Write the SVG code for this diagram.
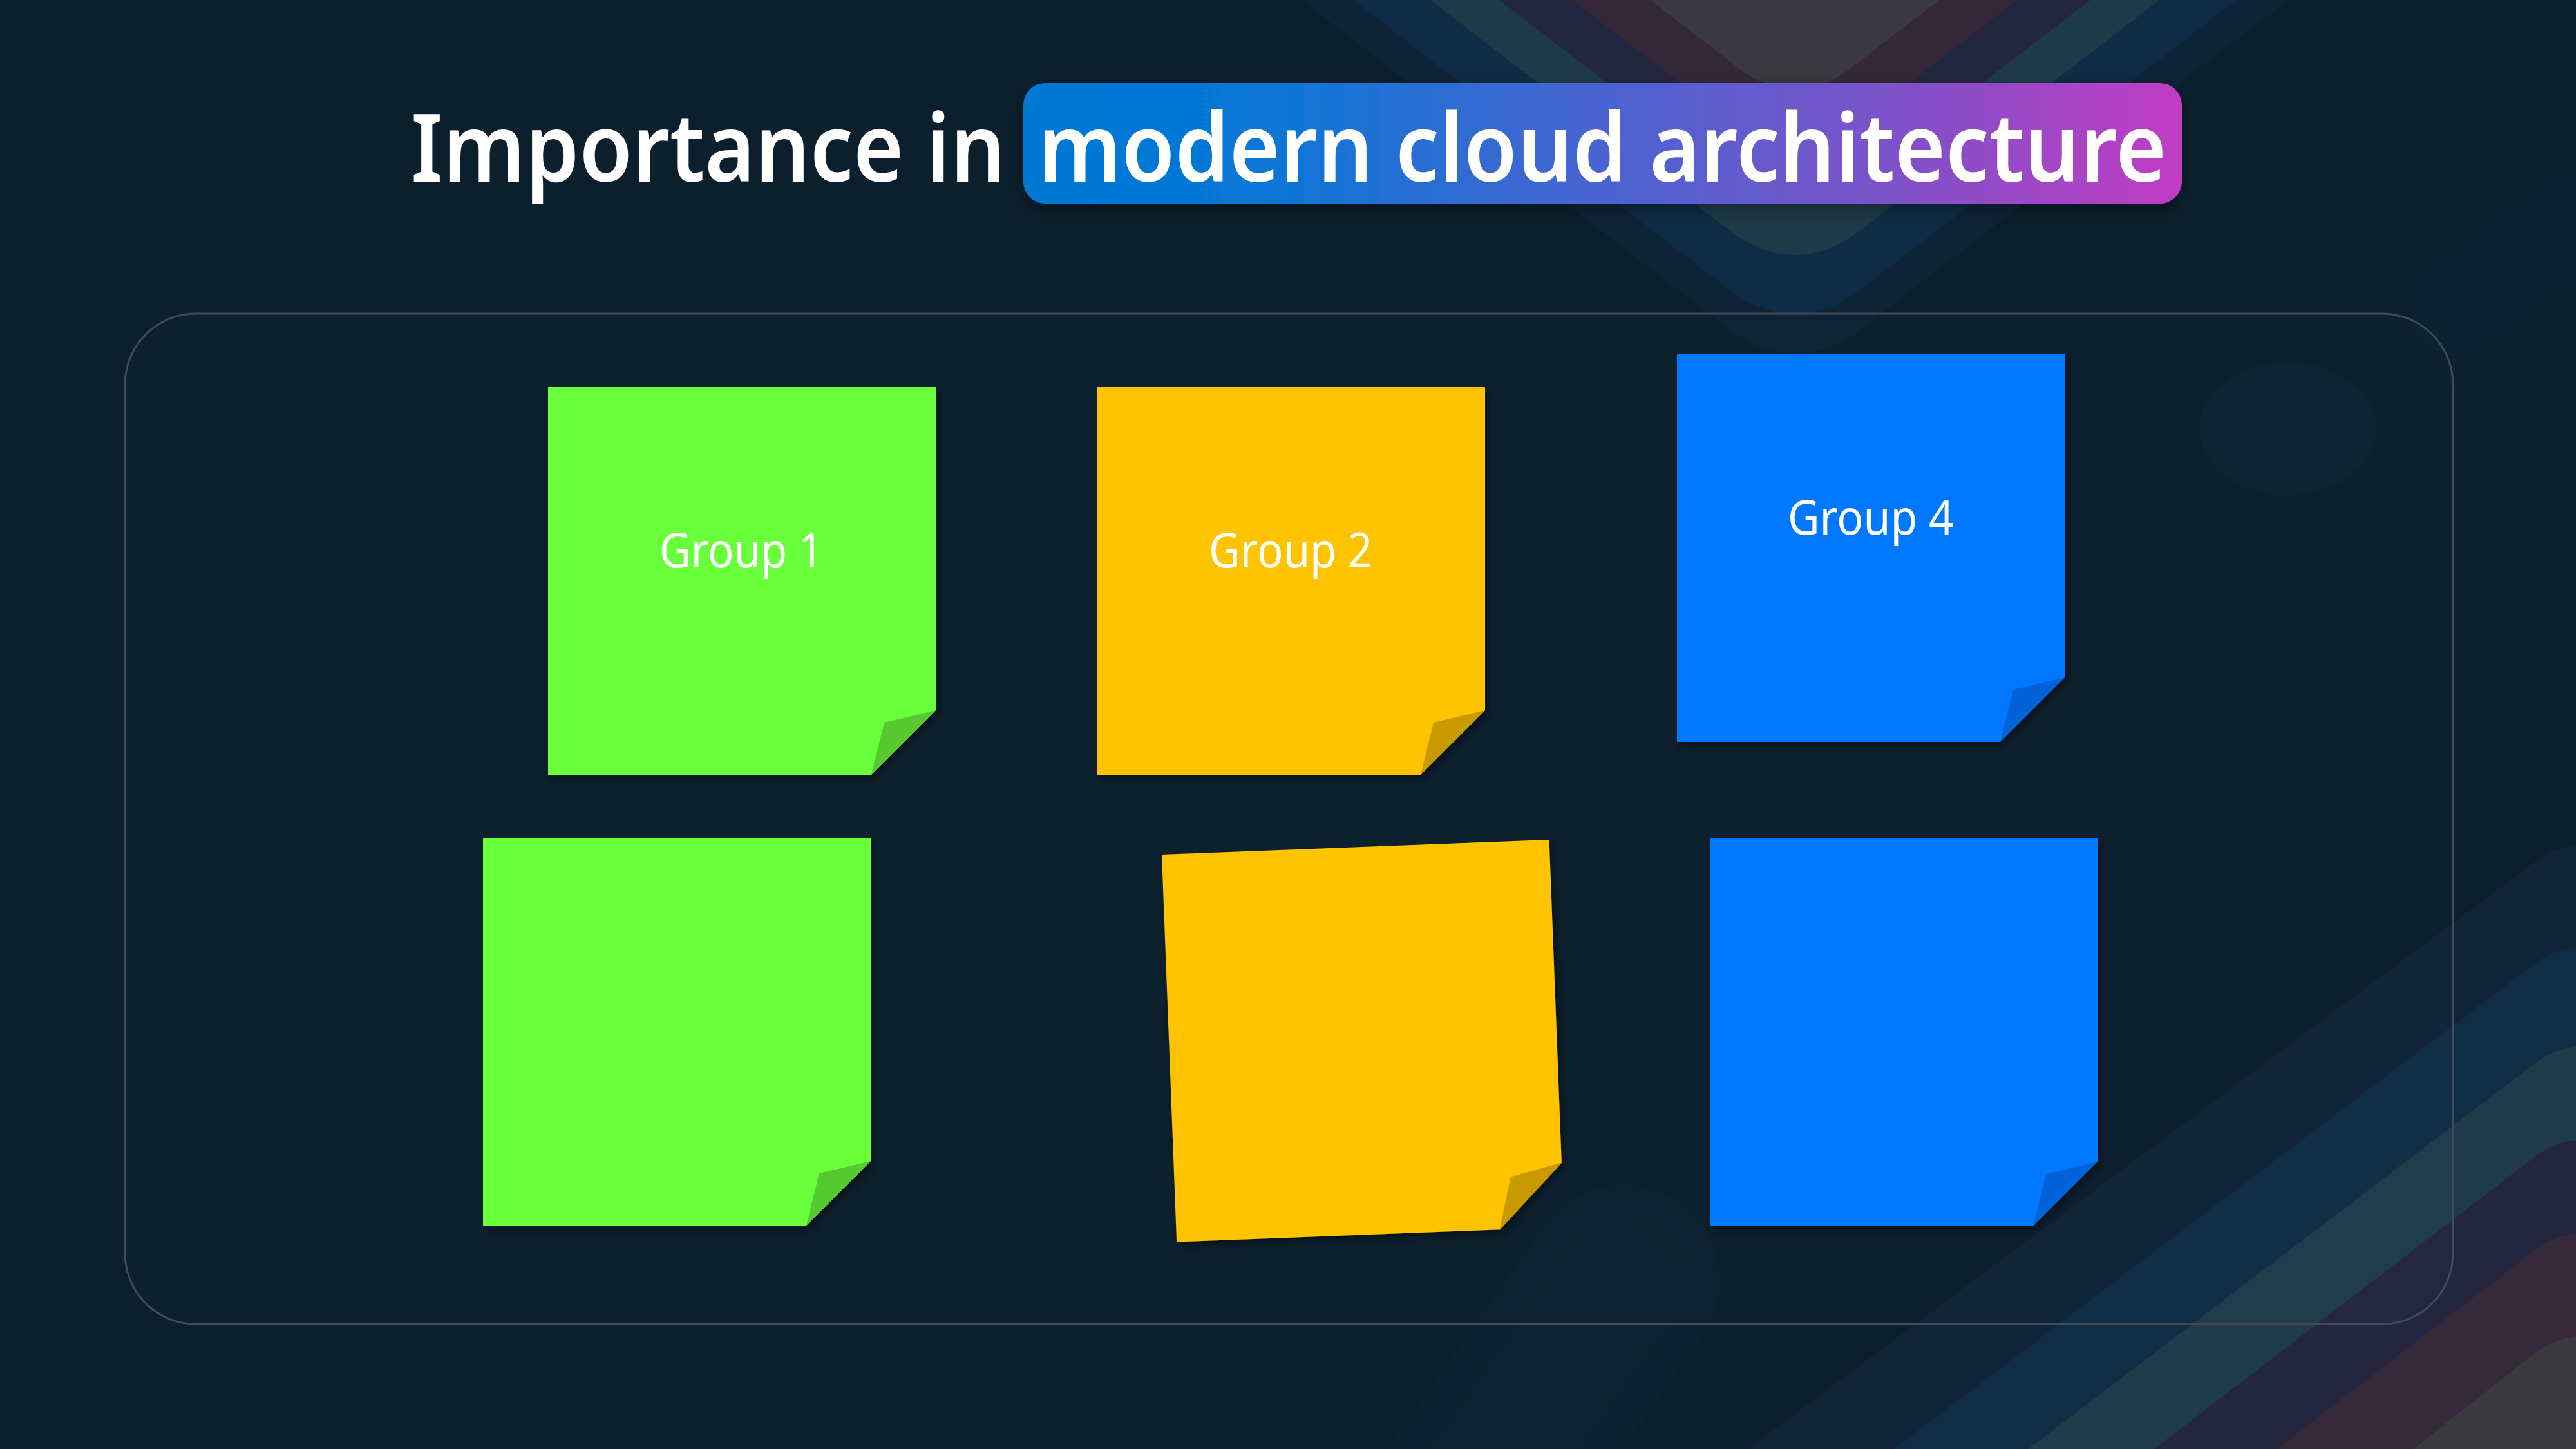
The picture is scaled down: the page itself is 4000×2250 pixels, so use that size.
<svg xmlns="http://www.w3.org/2000/svg" width="4000" height="2250" viewBox="0 0 4000 2250">
  <defs>
    <style>
      .title { font-family: "Noto Sans", "Open Sans", "Liberation Sans", sans-serif; font-weight: 600; font-size: 146px; fill: #ffffff; }
      .label { font-family: "Noto Sans", "Open Sans", "Liberation Sans", sans-serif; font-weight: 400; font-size: 74px; fill: #ffffff; text-anchor: middle; }
      .green { fill: #6bff3b; }
      .green-flap { fill: #55c92f; }
      .yellow { fill: #ffc300; }
      .yellow-flap { fill: #c99a00; }
      .blue { fill: #0077ff; }
      .blue-flap { fill: #0062d6; }
      .stripe { fill: none; stroke-width: 240; stroke-linecap: round; }
      .frame { fill: #ffffff; fill-opacity: 0.008; stroke: #414c57; stroke-width: 3; }
    </style>
    <linearGradient id="pillGrad" gradientUnits="userSpaceOnUse" x1="1589" y1="0" x2="3388" y2="0">
      <stop offset="0" stop-color="#0078d4"/>
      <stop offset="0.2" stop-color="#0877d6"/>
      <stop offset="0.5" stop-color="#4a64d1"/>
      <stop offset="0.75" stop-color="#7d52c9"/>
      <stop offset="1" stop-color="#c13cc4"/>
    </linearGradient>
    <filter id="noteShadow" x="-10%" y="-10%" width="125%" height="125%">
      <feDropShadow dx="4" dy="6" stdDeviation="6" flood-color="#000000" flood-opacity="0.45"/>
    </filter>
    <filter id="pillShadow" x="-10%" y="-30%" width="120%" height="180%">
      <feDropShadow dx="0" dy="10" stdDeviation="14" flood-color="#000000" flood-opacity="0.35"/>
    </filter>
    <path id="noteBody" d="M0,0 H602 V502 L502,602 H0 Z"/>
    <path id="noteFlap" d="M602,502 L522,521 L502,602 Z"/>
  </defs>

  <!-- background -->
  <rect x="0" y="0" width="4000" height="2250" fill="#0b1f2c"/>

  <!-- top chevrons -->
  <g id="bg-chevrons">
    <path d="M1995,-20 L2683,510 Q2787,590 2891,510 L3579,-20 Z" fill="#0f2337"/>
    <path d="M2075,-20 L2683,448 Q2787,528 2891,448 L3499,-20 Z" fill="#0e2c45"/>
    <path d="M2195,-20 L2683,356 Q2787,436 2891,356 L3379,-20 Z" fill="#1f3b4a"/>
    <path d="M2302,-20 L2683,273 Q2787,353 2891,273 L3272,-20 Z" fill="#23263f"/>
    <path d="M2416,-20 L2683,186 Q2787,266 2891,186 L3158,-20 Z" fill="#342838"/>
    <path d="M2537,-20 L2700,106 Q2787,172 2874,106 L3037,-20 Z" fill="#3a3a40"/>
  </g>

  <!-- bottom-right stripes -->
  <g id="bg-stripes">
    <line class="stripe" x1="2546" y1="2525" x2="4011" y2="1432" stroke="#112336"/>
    <line class="stripe" x1="2776" y1="2525" x2="4011" y2="1590" stroke="#0f2d45"/>
    <line class="stripe" x1="2986" y1="2525" x2="4011" y2="1745" stroke="#203c4b"/>
    <line class="stripe" x1="3184" y1="2525" x2="4011" y2="1890" stroke="#242640"/>
    <line class="stripe" x1="3375" y1="2525" x2="4011" y2="2035" stroke="#36293a"/>
    <line class="stripe" x1="3592" y1="2525" x2="4011" y2="2195" stroke="#3b3b3f"/>
  </g>

  <!-- faint decorative capsules -->
  <g id="bg-faint" fill="none" stroke-linecap="round">
    <line x1="2520" y1="1990" x2="2260" y2="2360" stroke="#0d2130" stroke-width="300"/>
    <line x1="2520" y1="1990" x2="2260" y2="2360" stroke="#0e2331" stroke-width="190"/>
    <line x1="3813" y1="468" x2="4200" y2="200" stroke="#0c202e" stroke-width="300"/>
    <line x1="3822" y1="468" x2="4200" y2="205" stroke="#0d2231" stroke-width="175"/>
    <ellipse cx="3552" cy="666" rx="138" ry="103" fill="#0d2331" stroke="none"/>
  </g>

  <!-- title -->
  <g id="title">
    <rect x="1589" y="129" width="1799" height="187" rx="34" fill="url(#pillGrad)" filter="url(#pillShadow)"/>
    <text class="title" x="638" y="282" textLength="923" lengthAdjust="spacingAndGlyphs">Importance in</text>
    <text class="title" x="1612" y="282" textLength="1752" lengthAdjust="spacingAndGlyphs">modern cloud architecture</text>
  </g>

  <!-- container -->
  <g id="container">
    <rect class="frame" x="194" y="487" width="3615" height="1569" rx="110"/>
  </g>

  <!-- sticky notes -->
  <g id="note-group1" transform="translate(851,601)">
    <use href="#noteBody" class="green" filter="url(#noteShadow)"/>
    <use href="#noteFlap" class="green-flap"/>
    <text class="label" x="300" y="280" textLength="254" lengthAdjust="spacingAndGlyphs">Group 1</text>
  </g>

  <g id="note-group2" transform="translate(1704,601)">
    <use href="#noteBody" class="yellow" filter="url(#noteShadow)"/>
    <use href="#noteFlap" class="yellow-flap"/>
    <text class="label" x="300" y="280" textLength="254" lengthAdjust="spacingAndGlyphs">Group 2</text>
  </g>

  <g id="note-group4" transform="translate(2604,550)">
    <use href="#noteBody" class="blue" filter="url(#noteShadow)"/>
    <use href="#noteFlap" class="blue-flap"/>
    <text class="label" x="301" y="280" textLength="258" lengthAdjust="spacingAndGlyphs">Group 4</text>
  </g>

  <g id="note-green2" transform="translate(750,1301)">
    <use href="#noteBody" class="green" filter="url(#noteShadow)"/>
    <use href="#noteFlap" class="green-flap"/>
  </g>

  <g id="note-yellow2" transform="translate(1804,1327) rotate(-2.2)">
    <use href="#noteBody" class="yellow" filter="url(#noteShadow)"/>
    <use href="#noteFlap" class="yellow-flap"/>
  </g>

  <g id="note-blue2" transform="translate(2655,1302)">
    <use href="#noteBody" class="blue" filter="url(#noteShadow)"/>
    <use href="#noteFlap" class="blue-flap"/>
  </g>

  <g id="connectors"></g>
</svg>
